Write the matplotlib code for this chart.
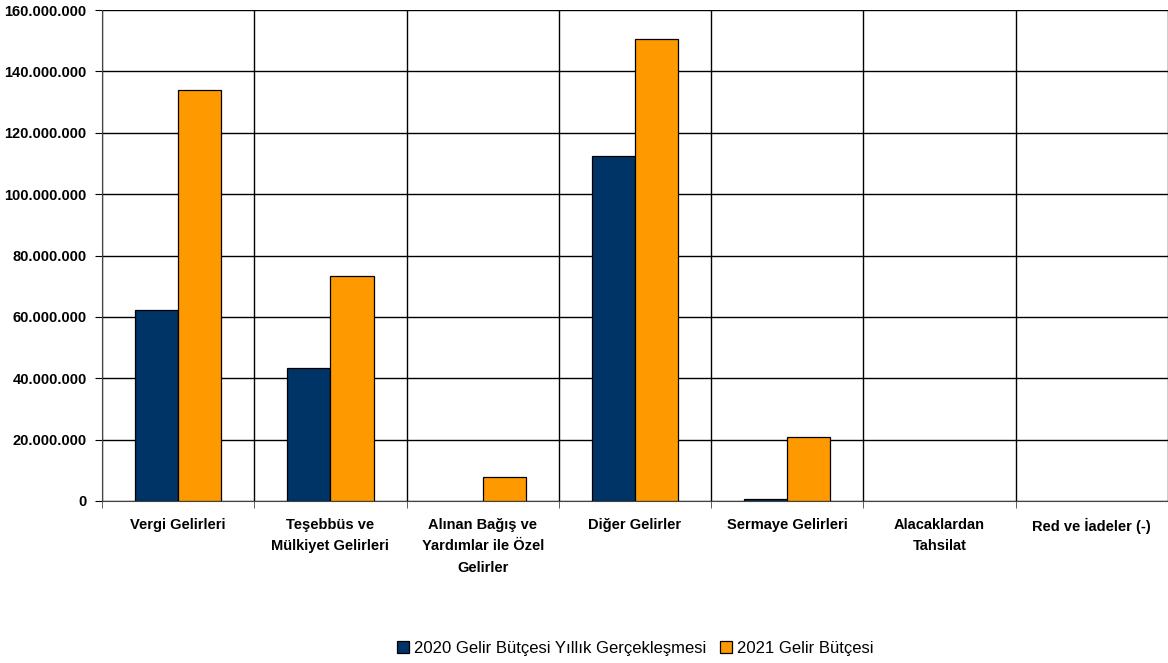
import numpy as np
import matplotlib.pyplot as plt
from matplotlib.ticker import FuncFormatter, MultipleLocator

categories = ['Vergi Gelirleri', 'Teşebbüs ve\nMülkiyet Gelirleri',
              'Alınan Bağış ve\nYardımlar ile Özel\nGelirler', 'Diğer Gelirler',
              'Sermaye Gelirleri', 'Alacaklardan\nTahsilat', 'Red ve İadeler (-)']
gercek_2020 = [62400000, 43400000, 0, 112400000, 500000, 0, 0]
butce_2021 = [133900000, 73300000, 7800000, 150400000, 20800000, 0, 0]
series_names = ['2020 Gelir Bütçesi Yıllık Gerçekleşmesi', '2021 Gelir Bütçesi']

plt.rcParams['font.family'] = ['Liberation Sans Narrow', 'Liberation Sans', 'DejaVu Sans']

fig = plt.figure(figsize=(11.68, 6.63), dpi=100)
ax = fig.add_axes([102 / 1168, 1 - 501 / 663, 1 - 102 / 1168, 491 / 663])

x = np.arange(len(categories))
w = 0.283
# empty bars get no outline
ax.bar(x - w / 2, gercek_2020, w, color='#003366',
       edgecolor=['black' if v > 0 else 'none' for v in gercek_2020], linewidth=0.9,
       label=series_names[0], zorder=3)
ax.bar(x + w / 2, butce_2021, w, color='#FF9900',
       edgecolor=['black' if v > 0 else 'none' for v in butce_2021], linewidth=0.9,
       label=series_names[1], zorder=3)

ax.set_xlim(-0.5, len(categories) - 0.5)
ax.set_ylim(0, 160000000)
ax.yaxis.set_major_locator(MultipleLocator(20000000))
ax.yaxis.set_major_formatter(FuncFormatter(lambda v, p: f'{int(v):,}'.replace(',', '.')))
ax.grid(axis='y', color='black', linewidth=1, zorder=0)

ax.set_xticks(x)
ax.set_xticklabels(categories, fontweight='bold', fontsize=10.5, linespacing=1.7)
ax.set_xticks(np.arange(len(categories) + 1) - 0.5, minor=True)
ax.tick_params(axis='x', which='major', length=0, pad=12)
ax.tick_params(axis='x', which='minor', length=5, color='#444444')
ax.grid(axis='x', which='minor', color='black', linewidth=1, zorder=0)
ax.tick_params(axis='y', length=5, labelsize=10.5, pad=6)
for lab in ax.get_yticklabels():
    lab.set_fontweight('bold')

for s in ['top', 'right']:
    ax.spines[s].set_visible(False)
ax.spines['left'].set_color('#444444')
ax.spines['bottom'].set_color('#444444')

leg = fig.legend(loc='center', bbox_to_anchor=(0.544, 1 - 648 / 663), ncol=2,
                 frameon=False, handlelength=0.75, handleheight=0.75, handletextpad=0.3,
                 columnspacing=0.8, prop={'family': ['Liberation Sans', 'DejaVu Sans'], 'size': 12})
for h in leg.legend_handles:
    h.set_edgecolor('black')

fig.savefig('out.png', dpi=100)
